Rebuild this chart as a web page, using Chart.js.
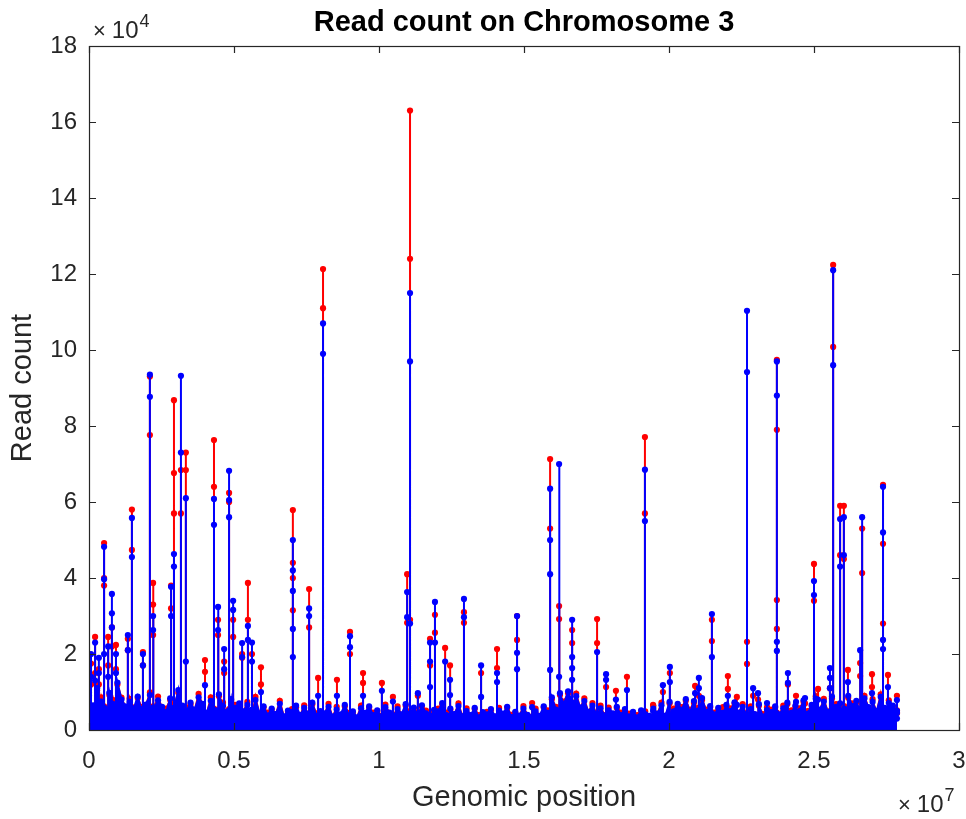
<!DOCTYPE html>
<html><head><meta charset="utf-8">
<script src="https://cdn.jsdelivr.net/npm/chart.js@4.4.1/dist/chart.umd.min.js"></script>
<style>html,body{margin:0;padding:0;background:#fff}#wrap{width:966px;height:819px}</style>
</head><body><div id="wrap"><canvas id="c" width="966" height="819"></canvas></div>
<script>
const chartTitle = 'Read count on Chromosome 3';
const xAxisLabel = 'Genomic position';
const yAxisLabel = 'Read count';
const xTickLabels = ['0','0.5','1','1.5','2','2.5','3'];      // ×10^7
const yTickLabels = ['0','2','4','6','8','10','12','14','16','18']; // ×10^4
const xExponent = '7';
const yExponent = '4';

// background read count per genomic bin (bins of 0.14 Mb)
const baselineBinMb = 0.14;
const blueBaseline = [
 9000,6500,11000,7500,5200,9800,6800,12500,8000,6200,
 7400,5600,8800,4900,6700,9200,5400,7800,6100,4700,
 8300,5900,10500,6400,4800,7200,5300,8600,6900,4500,
 7700,5200,9400,6300,4600,8100,5800,7000,4900,6600,
 5300,7900,4400,6200,3800,5600,4200,6900,3600,5100,
 4700,6400,3900,5800,4300,7200,3700,5000,4400,6100,
 3500,5400,4100,6600,3800,4900,3300,5700,4500,6200,
 3900,5200,3400,6000,4600,3700,5500,4100,6800,4300,
 5900,3800,6500,4400,3600,5300,4900,7100,3900,5600,
 4200,6300,3500,5000,3900,5800,3200,4700,4100,5500,
 3600,5100,4300,6100,3400,4800,3800,5600,4000,3300,
 4900,3700,6200,4500,8600,5400,9700,6800,10200,7300,
 8900,5900,7600,4800,6400,4100,5700,3800,5200,4400,
 6100,3900,5500,3600,4800,3300,5200,4200,3700,5600,
 4300,6500,3800,7400,4900,6900,5300,8100,4600,7600,
 5100,8400,4700,6300,3900,5800,4400,6600,5000,7300,
 4600,6100,3800,5500,4200,6800,3500,5300,4700,6200,
 4000,5700,7200,4500,6400,5000,7800,4300,6600,8200,
 5400,7500,4800,8800,6100,7000,5600,9000,6300,7700,
 5200,8300,6000,7400,4900,8700,5800,7100,6400,5000
];
const redBaseline = [
 9800,6000,10400,8600,5600,9200,7900,12000,8500,5800,
 8200,5200,8400,6000,6300,9900,5000,8800,5700,5600,
 7900,6800,9800,6000,5900,6800,5000,9500,6500,4300,
 8600,4900,8900,7200,4300,7700,6600,6600,4600,7400,
 5000,8700,4100,5900,4600,5300,3900,7700,3400,4800,
 5500,6000,3700,6500,4000,6800,4400,4700,4100,6900,
 3300,6100,3900,6200,4500,4600,3100,6400,4200,5900,
 4600,4900,3200,6700,4300,3500,6200,3900,6400,5000,
 5600,4500,6100,5100,3400,5000,5600,6700,4600,5300,
 3900,7000,3300,5700,3700,5500,3900,4400,4800,5200,
 3400,5800,4000,5800,4000,4500,3600,6300,3800,3100,
 5600,3500,5900,5200,8100,6100,9200,7500,9700,6900,
 9600,5600,8300,4500,7100,3900,6400,3600,5900,4200,
 5800,4600,5200,4300,4500,3900,4900,4900,3500,6300,
 4100,7200,3600,7000,5600,6500,6000,7700,5300,7200,
 5800,7900,5400,6000,4600,5500,5100,6300,5700,6900,
 4300,6800,3600,6200,4000,6400,4200,5000,5400,5900,
 3800,6400,6800,5200,6100,5700,7400,5000,6300,8900,
 5100,8200,4500,8300,6800,6600,6300,8500,7000,7300,
 4900,9000,5700,8100,4600,9400,5500,7800,6100,4700
];

// peaks: genomic position (Mb) and the successive read counts recorded there
const spikePosMb = [
 0.07,0.21,0.34,0.52,0.66,0.79,0.93,1.34,1.48,1.86,
 2.10,2.21,2.83,2.93,3.17,3.34,4.00,4.31,4.45,4.66,
 4.83,4.97,5.28,5.48,5.62,5.93,7.03,7.59,7.90,8.07,
 8.55,9.00,9.45,10.10,10.48,10.97,11.07,11.34,11.76,11.93,
 12.28,12.45,12.93,13.52,14.07,14.76,15.28,15.90,16.21,16.66,
 17.52,17.83,18.17,18.55,19.17,19.45,19.79,20.03,20.90,21.03,
 21.48,21.86,22.03,22.34,22.69,22.90,23.07,23.38,23.72,24.10,
 24.38,24.69,25.00,25.14,25.55,25.66,25.90,26.03,26.17,26.59,
 26.66,27.00,27.38,27.55,27.86
];
const redSpikes = [
 [5200,12000,17500,4800],[4600,15000,24500,5300],[6100,16000,12000,4400],[5500,38000,49200,40000,6200],[4800,24500,17000,5600],
 [6300,27000,22000,5100],[4900,22400,16000,5800],[5400,21000,24000,4700],[6000,47400,58000,5300],[4500,17000,20500,5900],
 [5700,77600,93000,4900],[6200,33000,38700,25000,5000],[4600,32000,38000,5500],[5800,57000,67600,86800,4700],[5100,57000,68400,6000],
 [4400,68400,73000,5200],[4300,15300,18400,3900],[5600,64000,76300,4800],[4200,25000,29000,5300],[5000,15000,18000,4100],
 [4700,62400,60000,5500],[3900,29000,24500,4600],[4400,19000,20000,3600],[3700,38700,29000,4500],[4100,20000,3500],
 [3400,16500,12000,4000],[4300,57900,44000,40000,31500,3800],[3500,37100,27000,4200],[3900,13700,3300],[4100,121300,111000,3600],
 [3200,13200,4000],[3700,25800,20000,3400],[3300,15000,12400,4100],[3800,12400,3500],[3100,8700,3900],
 [3600,41000,28200,4200],[3900,29000,124000,163000,4500],[3400,9000,4100],[4000,24000,17000,3300],[3500,30300,25600,4300],
 [3700,21600,3200],[3300,17000,3900],[3800,31000,28200,3400],[3200,15000,3700],[3600,21300,16300,3100],
 [3300,30000,23700,3800],[3000,7100,3500],[4100,53000,71300,4600],[4800,32600,29200,5200],[5500,26300,22900,4900],
 [4200,29200,22900,3800],[3600,11300,4000],[3200,10300,3700],[3500,14000,3100],[3800,57000,77100,4100],
 [3300,6600,3600],[3700,10000,3200],[4200,15000,3900],[4000,11600,4500],[4400,9000,4100],
 [4600,29000,23400,4000],[3800,6000,4300],[4100,14200,10800,3700],[3600,8700,4000],[4300,17400,23200,3900],
 [3700,9000,4200],[4000,8000,3500],[3400,6000,3800],[4200,26600,34200,79000,97400,4600],[3900,12000,4400],
 [4100,9000,3700],[3600,7000,4300],[4500,34000,43700,4900],[4200,10800,4700],[5000,11000,4400],
 [4800,100800,122400,5300],[5100,46000,59000,4700],[4600,59000,45000,5400],[5200,15800,4900],[4700,17600,14200,5500],
 [5300,41300,53000,4800],[4600,14700,11300,5100],[5400,28000,49000,64500,4900],[4800,14500,5600],[5200,9000,4400]
];
const blueSpikes = [
 [4800,14000,20000,5100],[5500,13000,23000,4900],[5800,19000,15000,4600],[5000,20000,39700,48200,5900],[5300,22000,14000,5200],
 [6000,30700,35800,27000,4800],[4600,20000,15000,5500],[5100,21000,25000,4900],[5700,45500,55800,5000],[4700,17000,20000,5600],
 [5400,87700,93500,4600],[5900,26300,30000,4800],[4400,30000,37700,5200],[5500,43000,46300,4500],[4900,73000,93200,5700],
 [4200,61000,18000,5000],[4100,11800,3700],[5300,54000,60800,4600],[4000,26300,32400,5100],[4800,21300,16000,3900],
 [4500,56000,68200,60500,5200],[3700,34000,31600,4400],[4200,22900,19200,3400],[3500,27400,23700,4300],[3900,23000,18000,3300],
 [3200,10000,3800],[4100,50000,42000,36600,26600,19200,3600],[3300,32000,30000,4000],[3700,9000,3100],[3900,107000,99000,3400],
 [3000,9000,3800],[3500,24700,21800,3200],[3100,9000,3900],[3600,10300,3300],[2900,7500,3700],
 [3400,36300,29700,4000],[3700,28000,97000,115000,4300],[3200,9700,3900],[3800,23000,18000,11300,3100],[3300,33700,23000,4100],
 [3500,18000,3000],[3100,13200,9200,3700],[3600,34500,29700,3200],[3000,17000,8700,3500],[3400,15000,12600,2900],
 [3100,30000,20300,16000,3600],[2800,6000,3300],[3900,15800,41000,50000,63500,4400],[4600,14000,70000,5000],[5300,29000,19200,16300,13200,4700],
 [4000,20500,3600],[3400,14700,13200,3800],[3000,8000,3500],[3300,10500,2900],[3600,55000,68500,3900],
 [3100,5000,3400],[3500,11800,3000],[4000,16600,12600,3700],[3800,9700,4300],[4200,13700,11000,3900],
 [4400,30500,19200,3800],[3600,4500,4100],[3900,9000,3500],[3400,6600,3800],[4100,94200,110300,3700],
 [3500,11000,4000],[3800,9700,3300],[3200,7100,3600],[4000,20800,23200,88000,97000,4400],[3700,15000,12400,4200],
 [3900,7400,3500],[3400,8400,4100],[4300,35500,39200,4700],[4000,8000,4500],[4800,16300,13700,11000,4200],
 [4600,96000,121000,5100],[4900,43000,55500,4500],[4400,56000,46000,5200],[5000,12600,4700],[4500,21000,5300],
 [5100,56000,4600],[4400,9700,4900],[5200,21300,23700,52000,64000,4700],[4600,11300,5400],[5000,7900,4500,3000]
];

function buildSeries(baseVals, spikeVals) {
  const pts = baseVals.map((v, i) => ({x: +(i * baselineBinMb).toFixed(3), y: v, s: 0}));
  spikePosMb.forEach((p, si) => (spikeVals[si] || []).forEach((v, j) => pts.push({x: p, y: v, s: j + 1})));
  pts.sort((a, b) => (a.x - b.x) || (a.s - b.s));
  return pts.map(p => ({x: p.x, y: p.y}));
}

const FONT = "'Liberation Sans', Arial, Helvetica, sans-serif";
const TXT = '#262626';

const axesBox = {
  id: 'axesBox',
  afterDatasetsDraw(chart) {
    const {ctx, chartArea: a, scales: {x, y}} = chart;
    ctx.save();
    ctx.strokeStyle = TXT; ctx.lineWidth = 1.2;
    ctx.strokeRect(Math.round(a.left) + 0.5, Math.round(a.top) + 0.5, Math.round(a.right - a.left), Math.round(a.bottom - a.top));
    const L = 7;
    ctx.beginPath();
    x.ticks.forEach(t => {
      const px = Math.round(x.getPixelForValue(t.value)) + 0.5;
      ctx.moveTo(px, a.bottom); ctx.lineTo(px, a.bottom - L);
      ctx.moveTo(px, a.top); ctx.lineTo(px, a.top + L);
    });
    y.ticks.forEach(t => {
      const py = Math.round(y.getPixelForValue(t.value)) + 0.5;
      ctx.moveTo(a.left, py); ctx.lineTo(a.left + L, py);
      ctx.moveTo(a.right, py); ctx.lineTo(a.right - L, py);
    });
    ctx.stroke();
    ctx.fillStyle = TXT; ctx.textAlign = 'left'; ctx.textBaseline = 'alphabetic';
    const drawExp = (xx, yy, exp) => {
      ctx.font = `22px ${FONT}`;
      ctx.fillText('\u00d7', xx, yy);
      const wx = ctx.measureText('\u00d7').width;
      ctx.font = `24px ${FONT}`;
      ctx.fillText('10', xx + wx + 6, yy);
      const w10 = ctx.measureText('10').width;
      ctx.font = `18px ${FONT}`;
      ctx.fillText(exp, xx + wx + 6 + w10 + 1, yy - 11);
    };
    drawExp(a.left + 4, a.top - 8, yExponent);
    drawExp(a.right - 61, a.bottom + 82, xExponent);
    ctx.restore();
  }
};

new Chart(document.getElementById('c'), {
  type: 'line',
  data: {
    datasets: [
      {label: 'blue', data: buildSeries(blueBaseline, blueSpikes), borderColor: '#0000ff', backgroundColor: '#0000ff',
       pointBackgroundColor: '#0000ff', pointBorderWidth: 0, pointRadius: 3.1, borderWidth: 2, fill: 'origin', order: 0, tension: 0},
      {label: 'red', data: buildSeries(redBaseline, redSpikes), borderColor: '#ff0000', backgroundColor: '#ff0000',
       pointBackgroundColor: '#ff0000', pointBorderWidth: 0, pointRadius: 3.1, borderWidth: 2, fill: 'origin', order: 1, tension: 0}
    ]
  },
  options: {
    responsive: false, animation: false, devicePixelRatio: 1,
    layout: {padding: {top: 0, left: 0, right: 7, bottom: 0}},
    plugins: {
      legend: {display: false}, tooltip: {enabled: false},
      title: {display: true, fullSize: false, text: chartTitle, color: '#000', font: {family: FONT, size: 29, weight: 'bold', lineHeight: 1.2}, padding: {top: 5.6, bottom: 5.6}}
    },
    scales: {
      x: {
        type: 'linear', min: 0, max: 30,
        ticks: {stepSize: 5, color: TXT, font: {family: FONT, size: 24}, padding: 17, maxRotation: 0,
          callback: v => xTickLabels[Math.round(v / 5)]},
        grid: {display: false, drawTicks: false},
        border: {display: false},
        title: {display: true, text: xAxisLabel, color: TXT, font: {family: FONT, size: 29, lineHeight: 1.2}, padding: {top: 0, bottom: 3.6}},
        afterFit: s => { s.height = 89; s.paddingLeft = 0; s.paddingRight = 0; }
      },
      y: {
        type: 'linear', min: 0, max: 180000,
        ticks: {stepSize: 20000, color: TXT, font: {family: FONT, size: 24}, padding: 12,
          callback: v => yTickLabels[Math.round(v / 20000)]},
        grid: {display: false, drawTicks: false},
        border: {display: false},
        title: {display: true, text: yAxisLabel, color: TXT, font: {family: FONT, size: 29, lineHeight: 1.2}, padding: {top: 5.8, bottom: 0}},
        afterFit: s => { s.width = 89; s.paddingTop = 0; s.paddingBottom = 0; }
      }
    }
  },
  plugins: [axesBox]
});
</script>
</body></html>
